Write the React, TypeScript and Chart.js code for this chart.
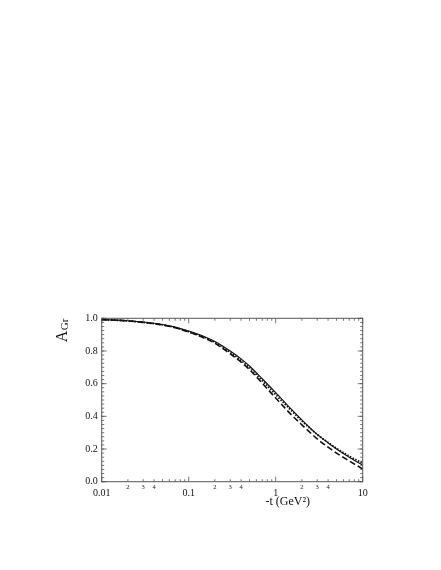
import { useEffect, useRef } from 'react';
import { Chart, registerables } from 'chart.js';

Chart.register(...registerables);

// -t values (GeV^2) and the three A_Gr curves
const T_VALUES = [0.01, 0.015, 0.02, 0.03, 0.05, 0.07, 0.1, 0.15, 0.2, 0.3, 0.4, 0.5, 0.7, 1, 1.5, 2, 3, 4, 5, 7, 10];
const SOLID = [0.992, 0.989, 0.985, 0.977, 0.962, 0.946, 0.922, 0.889, 0.858, 0.8, 0.752, 0.708, 0.63, 0.545, 0.445, 0.378, 0.29, 0.238, 0.2, 0.15, 0.102];
const DOTTED = [0.991, 0.988, 0.984, 0.975, 0.96, 0.943, 0.918, 0.884, 0.852, 0.792, 0.742, 0.698, 0.618, 0.533, 0.437, 0.372, 0.289, 0.24, 0.204, 0.156, 0.114];
const DASHED = [0.991, 0.988, 0.984, 0.975, 0.959, 0.942, 0.916, 0.88, 0.847, 0.783, 0.732, 0.686, 0.603, 0.512, 0.412, 0.348, 0.262, 0.211, 0.175, 0.127, 0.078];

// axis ticks
const X_MAJOR = [0.01, 0.1, 1, 10];
const X_MAJOR_LABELS = ['0.01', '0.1', '1', '10'];
const X_MINOR = [
  0.02, 0.03, 0.04, 0.05, 0.06, 0.07, 0.08, 0.09,
  0.2, 0.3, 0.4, 0.5, 0.6, 0.7, 0.8, 0.9,
  2, 3, 4, 5, 6, 7, 8, 9,
];
const X_SMALL_VALUES = [0.02, 0.03, 0.04, 0.2, 0.3, 0.4, 2, 3, 4];
const X_SMALL_LABELS = ['2', '3', '4', '2', '3', '4', '2', '3', '4'];
const Y_MAJOR = [0, 0.2, 0.4, 0.6, 0.8, 1.0];
const Y_MINOR_STEP = 0.025;

const SERIF = '"Liberation Serif", "DejaVu Serif", serif';

const frameTicks = {
  id: 'frameTicks',
  afterDraw(chart: any) {
    const { ctx, chartArea: a, scales } = chart;
    const x = scales.x;
    const y = scales.y;
    ctx.save();
    ctx.strokeStyle = '#555';
    ctx.lineWidth = 1;
    ctx.strokeRect(a.left, a.top, a.right - a.left, a.bottom - a.top);

    const vTick = (px: number, len: number) => {
      ctx.beginPath();
      ctx.moveTo(px, a.bottom);
      ctx.lineTo(px, a.bottom - len);
      ctx.moveTo(px, a.top);
      ctx.lineTo(px, a.top + len);
      ctx.stroke();
    };
    const hTick = (py: number, len: number) => {
      ctx.beginPath();
      ctx.moveTo(a.left, py);
      ctx.lineTo(a.left + len, py);
      ctx.moveTo(a.right, py);
      ctx.lineTo(a.right - len, py);
      ctx.stroke();
    };
    ctx.lineWidth = 0.8;
    X_MAJOR.forEach((v) => vTick(x.getPixelForValue(v), 5));
    X_MINOR.forEach((v) => vTick(x.getPixelForValue(v), 2.5));
    Y_MAJOR.forEach((v) => hTick(y.getPixelForValue(v), 5));
    for (let v = 0; v <= 1.0001; v += Y_MINOR_STEP) hTick(y.getPixelForValue(v), 2.5);

    // small decade labels 2 3 4
    ctx.fillStyle = '#222';
    ctx.font = `6.5px ${SERIF}`;
    ctx.textAlign = 'center';
    ctx.textBaseline = 'middle';
    X_SMALL_VALUES.forEach((v, i) => {
      ctx.fillText(X_SMALL_LABELS[i], x.getPixelForValue(v), a.bottom + 5.5);
    });

    // x title
    ctx.fillStyle = '#111';
    ctx.font = `12px ${SERIF}`;
    ctx.textAlign = 'center';
    ctx.fillText('-t (GeV²)', a.left + 186, a.bottom + 20);

    // y title A_Gr, rotated
    ctx.translate(a.left - 35, a.top + 24);
    ctx.rotate(-Math.PI / 2);
    ctx.textAlign = 'left';
    ctx.textBaseline = 'alphabetic';
    ctx.font = `16px ${SERIF}`;
    ctx.fillText('A', 0, 0);
    const w = ctx.measureText('A').width;
    ctx.font = `11px ${SERIF}`;
    ctx.fillText('Gr', w + 0.5, 1.5);
    ctx.restore();
  },
};

const App = () => {
  const canvasRef = useRef<HTMLCanvasElement>(null);
  const chartRef = useRef<Chart | null>(null);

  useEffect(() => {
    if (!canvasRef.current) return;
    const ctx = canvasRef.current.getContext('2d');
    if (!ctx) return;
    if (chartRef.current) chartRef.current.destroy();

    const line = (data: number[], width: number, dash: number[]) => ({
      data: T_VALUES.map((t, i) => ({ x: t, y: data[i] })),
      borderColor: '#111',
      borderWidth: width,
      borderDash: dash,
      pointRadius: 0,
      cubicInterpolationMode: 'monotone' as const,
      fill: false,
    });

    chartRef.current = new Chart(ctx, {
      type: 'line',
      data: {
        datasets: [line(SOLID, 1.1, []), line(DOTTED, 1.8, [1.5, 1.5]), line(DASHED, 1.6, [6, 3])],
      },
      plugins: [frameTicks],
      options: {
        responsive: false,
        animation: false,
        layout: { padding: { left: 0, top: 318.3, right: 78.3, bottom: 0 } },
        plugins: { legend: { display: false }, tooltip: { enabled: false } },
        scales: {
          x: {
            type: 'logarithmic',
            min: 0.01,
            max: 10,
            grid: { display: false, drawTicks: false },
            border: { display: false },
            afterBuildTicks: (scale: any) => {
              scale.ticks = X_MAJOR.map((v) => ({ value: v }));
            },
            afterFit: (scale: any) => {
              scale.height = 88.3;
            },
            ticks: {
              autoSkip: false,
              maxRotation: 0,
              padding: 6,
              color: '#111',
              font: { family: SERIF, size: 10 },
              callback: (_v: any, i: number) => X_MAJOR_LABELS[i],
            },
          },
          y: {
            min: 0,
            max: 1,
            grid: { display: false, drawTicks: false },
            border: { display: false },
            afterBuildTicks: (scale: any) => {
              scale.ticks = Y_MAJOR.map((v) => ({ value: v }));
            },
            afterFit: (scale: any) => {
              scale.width = 101.7;
            },
            ticks: {
              padding: 4,
              color: '#111',
              font: { family: SERIF, size: 10 },
              callback: (v: any) => Number(v).toFixed(1),
            },
          },
        },
      },
    });

    return () => {
      if (chartRef.current) {
        chartRef.current.destroy();
        chartRef.current = null;
      }
    };
  }, []);

  return (
    <div style={{ position: 'absolute', left: 0, top: 0, width: 441, height: 570, background: '#fff' }}>
      <canvas ref={canvasRef} width={441} height={570} style={{ width: 441, height: 570 }} />
    </div>
  );
};

export default App;
